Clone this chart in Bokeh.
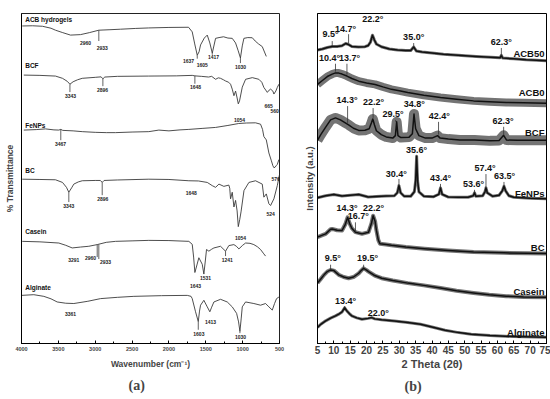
from bokeh.plotting import figure
from bokeh.layouts import row
from bokeh.models import Range1d, FixedTicker, Title
from bokeh.core.properties import value
from bokeh.embed import file_html
from bokeh.resources import INLINE

FONT = "Liberation Sans"

# ---------------- FTIR (panel a) ----------------
acb_wn = [3990, 3850, 3715, 3600, 3539, 3440, 3335, 3199, 3080, 2951, 2800, 2657, 2450, 2277, 2000, 1734, 1684,
          1650, 1616, 1591, 1571, 1520, 1480, 1445, 1412, 1367, 1320, 1259, 1200, 1141, 1096, 1060, 1030, 1005,
          983, 930, 869, 830, 784, 734, 679]
acb_t = [323.3, 323.5, 323, 321, 319, 316.5, 314, 314.5, 316.5, 319, 319.5, 320, 320.8, 321.3, 321.8, 322, 317.3,
         305, 293.5, 297, 304, 311, 314, 306, 295.7, 310.7, 311.5, 312.3, 311, 310.7, 306, 298, 290.7, 303,
         310.7, 311.5, 311.3, 308, 305, 302.3, 292.3]

bcf_wn = [3969, 3750, 3539, 3444, 3380, 3343, 3300, 3240, 3176, 3000, 2920, 2896, 2870, 2700, 2277, 1900, 1684,
          1648, 1560, 1462, 1420, 1367, 1330, 1300, 1260, 1232, 1190, 1164, 1141, 1118, 1096, 1075, 1059, 1042,
          1005, 960, 869, 780, 740, 712, 665, 640, 621, 590, 576, 550, 530, 508]
bcf_t = [273.3, 273, 272.3, 270, 267, 264, 266.5, 268.5, 270, 271, 271.5, 269.5, 271.3, 272, 272.3, 272.5, 273,
         272.5, 272, 271.3, 272, 269, 270.5, 270, 268.5, 267.3, 266, 264, 259, 252.3, 257, 250, 244, 247,
         261, 269, 270.7, 269, 266, 260.7, 255.7, 258, 259, 257, 254, 257, 260.7, 264]

fe_wn = [3969, 3800, 3674, 3560, 3494, 3467, 3440, 3300, 3176, 3000, 2850, 2724, 2500, 2273, 2137, 2000, 1850,
         1730, 1550, 1367, 1200, 1054, 950, 825, 757, 730, 712, 679, 644, 610, 590, 576, 560, 545, 530, 508]
fe_t = [217.3, 217.8, 218.5, 217.5, 217.3, 218, 217, 216.5, 215.7, 215, 214.7, 214.7, 215.3, 215.7, 217.3, 216.5,
        217.5, 218, 219, 220, 222, 224, 224.5, 224.7, 223.3, 218, 210.7, 207.3, 194, 186, 181, 179, 179.5, 181,
        182.3, 187.3]

bc_wn = [3990, 3750, 3539, 3444, 3390, 3358, 3320, 3290, 3230, 3176, 3000, 2930, 2905, 2880, 2700, 2273, 2000,
         1730, 1600, 1480, 1412, 1367, 1322, 1255, 1187, 1175, 1164, 1141, 1118, 1096, 1075, 1059, 1040, 1022,
         982, 915, 825, 734, 712, 679, 644, 621, 576, 530, 500]
bc_t = [167.3, 167, 166.7, 164, 159, 154, 158.5, 162.3, 164.5, 165.7, 166, 166, 164, 166, 166.5, 167.3, 167,
        165.7, 165.5, 164, 160.7, 159, 162.3, 160, 161.3, 158, 147.3, 154, 139, 145.7, 135, 119, 126, 134,
        155.7, 164, 165.7, 162.3, 149, 152.3, 142.3, 140.5, 147.3, 160.7, 172]

cas_wn = [3990, 3750, 3494, 3400, 3312, 3200, 3087, 2973, 2850, 2724, 2500, 2273, 2000, 1730, 1684, 1665, 1648,
          1620, 1594, 1548, 1526, 1505, 1490, 1458, 1420, 1390, 1300, 1232, 1187, 1119, 1085, 1051, 1000, 960,
          900, 848, 800, 757, 720, 689]
cas_t = [104, 103.5, 102.3, 100, 97.3, 98.2, 99, 100.7, 103, 104, 104.5, 105, 104.8, 104, 101, 88, 72.3,
         80, 87.3, 80.7, 70.7, 85, 95.7, 94, 96, 97.3, 99, 94, 99.7, 100.7, 99, 96.3, 100, 102.3,
         102, 100.7, 98.5, 95.7, 92, 89]

alg_wn = [4000, 3833, 3697, 3600, 3516, 3400, 3290, 3100, 2928, 2700, 2476, 2100, 1751, 1700, 1684, 1639, 1602,
          1585, 1571, 1526, 1480, 1445, 1420, 1390, 1300, 1209, 1141, 1082, 1055, 1037, 1020, 1005, 960, 848,
          757, 689, 644, 598, 567, 540, 508]
alg_t = [49, 49.7, 48, 45.5, 42.3, 41, 40.7, 43, 45.7, 47, 48, 48.7, 49, 48, 45.7, 32.3, 22.3,
         33, 39, 44, 37.3, 32.3, 37, 42.3, 45, 42.3, 37.3, 30.7, 22, 12.3, 25, 37.3, 42.3, 40.7,
         39, 40.7, 37.3, 34, 40.7, 45.7, 47.3]

ftir_names = ["ACB hydrogels", "BCF", "FeNPs", "BC", "Casein", "Alginate"]
ftir_name_y = [330, 283, 222, 175.7, 114, 57.3]

ftir_lab_text = ["2960", "2933", "1637", "1605", "1417", "1030",
                 "3343", "2896", "1648", "665", "560",
                 "3467", "1054", "576",
                 "3343", "2896", "1648", "524",
                 "3291", "2960", "2933", "1643", "1531", "1241", "1054",
                 "3361", "1603", "1413", "1030"]
ftir_lab_wn = [3132, 2905, 1734, 1548, 1395, 1028,
               3335, 2901, 1639, 648, 567,
               3471, 1042, 553,
               3358, 2897, 1697, 621,
               3290, 3064, 2860, 1639, 1503, 1209, 1028,
               3335, 1594, 1435, 1028]
ftir_lab_y = [306, 301.3, 287.3, 283.3, 291.3, 281.3,
              251.7, 258, 260.7, 242, 237,
              203.3, 227.3, 168,
              139.7, 147.3, 153.3, 131.7,
              85, 87.3, 83, 59, 66.7, 85, 107.3,
              30, 10, 21.7, 6.7]

ftir_mark_wn = [2951, 1616, 1412, 1030, 3343, 2896, 1648, 3467, 3358, 2905, 2973, 2951, 1232, 1602, 1037]
ftir_mark_top = [319, 293.5, 295.7, 290.7, 264, 269.5, 272.5, 218, 154, 164, 100.7, 100.7, 94, 22.3, 12.3]
ftir_mark_bot = [308, 290, 294, 285.5, 256, 262, 264.5, 207, 144, 151, 88, 86, 89, 14, 10.5]

# ---------------- XRD (panel b) ----------------
acb50_tt = [5.0, 6.5, 8.0, 9.5, 11.0, 12.5, 13.6, 14.5, 15.5, 17.5, 19.5, 20.5, 21.2, 21.8, 22.4, 23.0, 24.5,
            27.0, 29.5, 32.0, 33.5, 34.4, 35.2, 37.0, 40.0, 43.5, 48.0, 53.5, 58.0, 60.8, 61.2, 61.6, 65.0,
            68.8, 72.0, 75.0]
acb50_i = [298, 299, 300.5, 301.5, 301.5, 302.3, 304.5, 303.5, 301.5, 301, 301.3, 302.5, 306, 313, 308, 304,
           301.3, 299, 298, 297.5, 297.5, 301, 297, 296, 295, 293.7, 292.5, 291.3, 290.5, 290, 292.5, 289.8,
           289, 288, 287.5, 287]

acb0_tt = [5.0, 6.5, 8.0, 9.5, 10.5, 11.5, 12.5, 14.0, 15.5, 17.6, 20.0, 22.6, 25.0, 27.6, 30.0, 32.6, 37.5,
           42.6, 47.5, 52.7, 57.5, 62.7, 68.0, 75.0]
acb0_i = [263, 267, 271, 273.5, 274.7, 274.5, 273.5, 271.5, 269, 266.3, 264.5, 263, 260.5, 258, 256.5, 254.7,
          252, 249.7, 248, 246.3, 245.5, 244.7, 244.3, 244]

bcfx_tt = [5.0, 6.0, 7.5, 9.0, 10.5, 12.0, 13.5, 14.5, 16.0, 17.6, 19.5, 20.8, 21.5, 21.9, 22.4, 23.0, 24.5,
           26.0, 28.0, 28.8, 29.2, 29.6, 30.5, 33.0, 34.0, 34.5, 35.0, 36.0, 38.0, 40.0, 41.7, 42.5, 45.0,
           48.5, 53.0, 57.7, 60.5, 61.9, 62.8, 66.0, 70.0, 75.0]
bcfx_i = [206.3, 212, 219.7, 227, 229, 227, 224, 222, 218.5, 216.3, 216.5, 218, 224, 228, 222, 216, 212,
          209.7, 208.5, 211, 225, 211, 209, 209.5, 213, 233, 218, 211, 208.5, 208.5, 211, 208.5, 207.5,
          206.5, 206.5, 205.7, 206, 211.3, 206.5, 206.3, 206.3, 206.3]

fex_tt = [5.0, 7.5, 10.0, 12.5, 15.0, 17.6, 20.5, 23.0, 26.0, 28.5, 29.4, 29.9, 30.4, 31.5, 33.5, 34.6, 35.0,
          35.3, 35.6, 36.0, 37.5, 40.5, 42.1, 42.6, 43.1, 45.0, 48.0, 51.0, 52.6, 53.0, 53.4, 55.5, 56.2,
          56.5, 56.9, 58.5, 60.5, 61.5, 62.0, 62.5, 63.5, 65.0, 70.0, 75.0]
fex_i = [148, 150, 151.3, 149.7, 150.5, 151.3, 148.7, 149.3, 149.7, 150, 153, 160.3, 153, 149.5, 149.5, 154,
         165, 190, 165, 154, 149.5, 149, 151.5, 158, 151.5, 148.7, 148.5, 148.5, 150, 153, 149.5, 150, 154,
         158, 153, 149.5, 150.5, 155, 159.7, 155, 150, 148.5, 147.5, 147]

bcx_tt = [5.0, 6.5, 7.5, 9.0, 9.5, 11.0, 12.5, 13.5, 14.2, 14.8, 15.5, 16.6, 18.6, 20.6, 21.5, 22.0, 22.6, 23.0,
          23.6, 24.1, 26.0, 27.6, 32.0, 37.7, 45.0, 52.7, 62.0, 75.0]
bcx_i = [108, 110, 111.3, 116, 116.3, 115, 114.7, 121, 128, 122, 117, 113, 111.3, 113, 122, 129.7, 124, 115,
         105, 101.3, 100.5, 99.7, 98, 96.3, 94.5, 93, 92, 91.3]

casx_tt = [5.0, 6.0, 7.0, 8.0, 9.0, 10.0, 11.5, 13.0, 14.5, 16.0, 17.6, 18.5, 19.1, 20.0, 20.6, 22.5, 24.6, 28.0,
           32.6, 37.5, 42.6, 47.5, 52.7, 57.5, 62.7, 68.0, 75.0]
casx_i = [61.3, 65.5, 69.7, 73, 74.7, 74, 69.7, 67.5, 66.3, 67.5, 71.3, 74.5, 76.3, 74.5, 73, 69, 66.3, 64,
          61.3, 59, 56.3, 53.5, 51.3, 49.5, 48, 47.3, 47]

algx_tt = [5.0, 6.0, 7.5, 9.0, 10.5, 11.5, 12.5, 13.3, 14.0, 15.0, 15.5, 17.0, 18.6, 20.5, 21.6, 22.5, 24.6, 28.5,
           32.6, 36.5, 40.6, 44.0, 47.7, 52.0, 57.7, 65.0, 75.0]
algx_i = [16.3, 19.5, 23, 25.7, 28, 29.8, 32, 36.3, 33, 29.5, 28, 26, 24.7, 25.5, 26.3, 25, 24, 22.8,
          21.3, 19.5, 16.3, 13.5, 11.3, 9.5, 8, 7, 6.3]

xrd_names = ["ACB50", "ACB0", "BCF", "FeNPs", "BC", "Casein", "Alginate"]
xrd_name_y = [294.7, 254.7, 214.7, 152, 97, 53, 11.3]

xrd_lab_text = ["9.5°", "14.7°", "22.2°", "35.0°", "62.3°",
                "10.4°", "13.7°",
                "14.3°", "22.2°", "29.5°", "34.8°", "42.4°", "62.3°",
                "30.4°", "35.6°", "43.4°", "53.6°", "57.4°", "63.5°",
                "14.3°", "16.7°", "22.2°",
                "9.5°", "19.5°",
                "13.4°", "22.0°"]
xrd_lab_tt = [9.0, 13.6, 21.9, 34.4, 61.2,
              8.7, 14.8,
              14.0, 22.1, 28.1, 34.6, 42.2, 61.7,
              29.1, 35.3, 42.6, 52.7, 56.2, 62.2,
              14.0, 17.5, 22.1,
              9.7, 20.3,
              13.6, 23.6]
xrd_lab_y = [313.7, 319.7, 329.7, 311.3, 306.3,
             289.7, 289.7,
             247, 245.3, 233, 243, 231.3, 226.3,
             172.3, 196, 168, 162, 178, 169.7,
             138, 129, 138,
             86.3, 86.3,
             43, 31]

xrd_mark_tt = [9.5, 14.5, 34.4, 61.2, 10.5, 14.0, 14.2, 22.0, 28.9, 42.0, 61.9, 29.9, 42.6, 53.0, 56.5, 62.0,
               16.6, 9.0, 19.1, 13.3, 21.6]
xrd_mark_top = [307, 314, 305, 300, 284, 284, 241, 239, 227, 225, 220, 167, 162, 156, 172, 164, 123, 80, 80, 38, 26.5]
xrd_mark_bot = [302, 305, 301, 292, 276, 273, 224, 229, 225, 212, 212, 161, 158, 153, 158, 160, 113, 75, 77, 36.5, 26]


def style_axes(p, tick_font_size, label_font_size):
    p.grid.visible = False
    p.xaxis.axis_label_text_font = FONT
    p.xaxis.axis_label_text_font_style = "bold"
    p.xaxis.axis_label_text_font_size = label_font_size
    p.xaxis.major_label_text_font = FONT
    p.xaxis.major_label_text_font_style = "bold"
    p.xaxis.major_label_text_font_size = tick_font_size
    p.xaxis.major_tick_in = 3
    p.xaxis.major_tick_out = 0
    p.xaxis.minor_tick_in = 2
    p.xaxis.minor_tick_out = 0
    p.xaxis.major_label_standoff = 3
    p.xaxis.axis_label_standoff = 5
    p.yaxis.ticker = FixedTicker(ticks=[])
    p.yaxis.major_tick_out = 0
    p.yaxis.major_tick_in = 0
    p.yaxis.minor_tick_out = 0
    p.yaxis.major_label_standoff = 0
    p.yaxis.axis_label_text_font = FONT
    p.yaxis.axis_label_text_font_style = "bold"
    p.yaxis.axis_label_text_font_size = label_font_size
    p.outline_line_color = "#222222"
    p.outline_line_width = 1


# ---------- panel (a) ----------
p1 = figure(width=300, height=399, output_backend="svg", toolbar_location=None,
            x_range=Range1d(4000, 500), y_range=Range1d(0, 336),
            min_border_left=21, min_border_right=21, min_border_top=13, min_border_bottom=50)
p1.xaxis.axis_label = "Wavenumber (cm\u207b\u00b9)"
p1.yaxis.axis_label = "% Transmittance"
style_axes(p1, "5.5px", "8.5px")
p1.yaxis.axis_label_standoff = 7
p1.xaxis.ticker = FixedTicker(ticks=[4000, 3500, 3000, 2500, 2000, 1500, 1000, 500],
                              minor_ticks=list(range(500, 4001, 250)))

for xs, ys in [(acb_wn, acb_t), (bcf_wn, bcf_t), (fe_wn, fe_t), (bc_wn, bc_t), (cas_wn, cas_t), (alg_wn, alg_t)]:
    p1.line(xs, ys, line_color="#3a3a3a", line_width=0.9)

p1.segment(x0=ftir_mark_wn, y0=ftir_mark_top, x1=ftir_mark_wn, y1=ftir_mark_bot,
           line_color="#3a3a3a", line_width=0.8)
p1.text(x=ftir_lab_wn, y=ftir_lab_y, text=ftir_lab_text, text_font=value(FONT), text_font_style="bold",
        text_font_size="5px", text_align="center", text_baseline="middle", text_color="#222222")
p1.text(x=[3950] * len(ftir_names), y=ftir_name_y, text=ftir_names, text_font=value(FONT),
        text_font_style="bold", text_font_size="6.5px", text_align="left", text_baseline="middle",
        text_color="#111111")
p1.add_layout(Title(text="(a)", align="left", offset=107, text_font="Liberation Serif",
                    text_font_size="14px", text_font_style="bold", standoff=9), "below")

# ---------- panel (b) ----------
p2 = figure(width=250, height=399, output_backend="svg", toolbar_location=None,
            x_range=Range1d(5, 75), y_range=Range1d(0, 335),
            min_border_left=13, min_border_right=4, min_border_top=8, min_border_bottom=56)
p2.xaxis.axis_label = "2 Theta (2\u03b8)"
p2.yaxis.axis_label = "Intensity (a.u.)"
style_axes(p2, "10px", "11px")
p2.yaxis.axis_label_text_font_size = "9.5px"
p2.yaxis.axis_label_standoff = 3
p2.xaxis.ticker = FixedTicker(ticks=list(range(5, 76, 5)), minor_ticks=[v / 2 for v in range(10, 151, 5)])
p2.xaxis.major_label_standoff = 2
p2.xaxis.axis_label_standoff = 1
p2.outline_line_color = "black"

series_b = [(acb50_tt, acb50_i, 3), (acb0_tt, acb0_i, 8), (bcfx_tt, bcfx_i, 10), (fex_tt, fex_i, 3),
            (bcx_tt, bcx_i, 4), (casx_tt, casx_i, 4), (algx_tt, algx_i, 3)]
for xs, ys, band in series_b:
    p2.line(xs, ys, line_color="#2a2a2a", line_alpha=0.65, line_width=band, line_join="round")
    p2.line(xs, ys, line_color="#111111", line_width=1.5, line_join="round")

p2.segment(x0=xrd_mark_tt, y0=xrd_mark_top, x1=xrd_mark_tt, y1=xrd_mark_bot,
           line_color="#333333", line_width=0.8)
p2.text(x=xrd_lab_tt, y=xrd_lab_y, text=xrd_lab_text, text_font=value(FONT), text_font_style="bold",
        text_font_size="9px", text_align="center", text_baseline="middle", text_color="#111111")
p2.text(x=[74.4] * len(xrd_names), y=xrd_name_y, text=xrd_names, text_font=value(FONT),
        text_font_style="bold", text_font_size="9.5px", text_align="right", text_baseline="middle",
        text_color="#111111")
p2.add_layout(Title(text="(b)", align="left", offset=87, text_font="Liberation Serif",
                    text_font_size="14px", text_font_style="bold", standoff=9), "below")

layout = row(p1, p2)
open("out.html", "w").write(file_html(layout, INLINE))
